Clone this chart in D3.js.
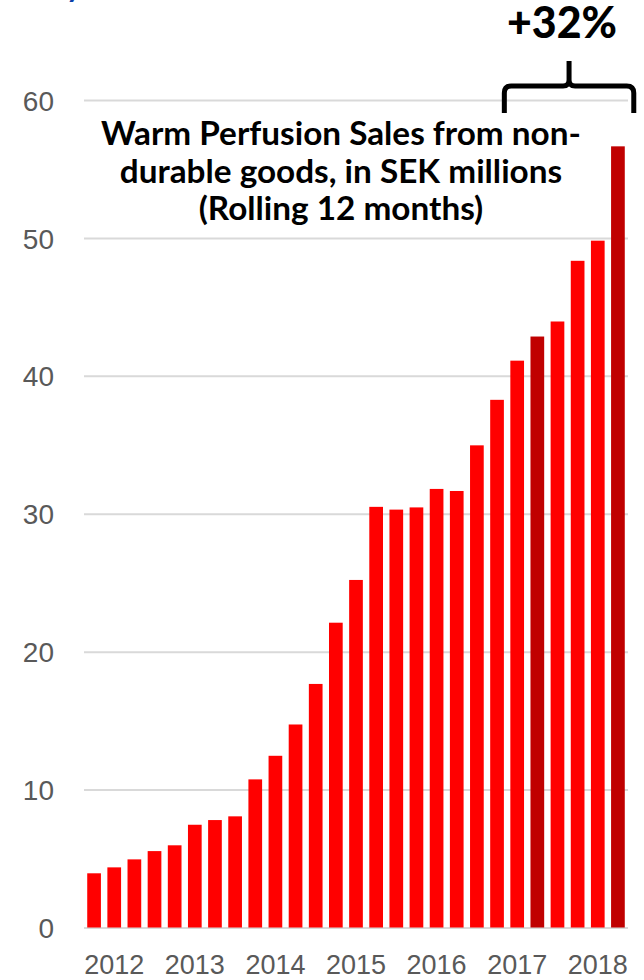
<!DOCTYPE html>
<html>
<head>
<meta charset="utf-8">
<script src="https://cdn.jsdelivr.net/npm/d3@7"></script>
<style>
  body { margin: 0; background: #fff; }
  svg { display: block; font-family: Lato, "Open Sans", sans-serif; }
</style>
</head>
<body>
<div id="chart"></div>
<script>
// rolling 12 months, one bar per quarter
const quarters = [
  "Q1 2012", "Q2 2012", "Q3 2012", "Q4 2012",
  "Q1 2013", "Q2 2013", "Q3 2013", "Q4 2013",
  "Q1 2014", "Q2 2014", "Q3 2014", "Q4 2014",
  "Q1 2015", "Q2 2015", "Q3 2015", "Q4 2015",
  "Q1 2016", "Q2 2016", "Q3 2016", "Q4 2016",
  "Q1 2017", "Q2 2017", "Q3 2017", "Q4 2017",
  "Q1 2018", "Q2 2018", "Q3 2018"
];
const sales = [
  3.93, 4.36, 4.94, 5.54,
  5.96, 7.45, 7.79, 8.06,
  10.74, 12.45, 14.72, 17.66,
  22.1, 25.2, 30.5, 30.3,
  30.46, 31.8, 31.65, 34.96,
  38.26, 41.1, 42.85, 43.94,
  48.34, 49.8, 56.64
];
const highlighted = ["Q3 2017", "Q3 2018"];
const yTicks = [0, 10, 20, 30, 40, 50, 60];
const yearTicks = ["Q2 2012", "Q2 2013", "Q2 2014", "Q2 2015", "Q2 2016", "Q2 2017", "Q2 2018"];
const titleLines = [
  "Warm Perfusion Sales from non-",
  "durable goods, in SEK millions",
  "(Rolling 12 months)"
];
const growthLabel = "+32%";

const width = 644;
const height = 980;

let data = quarters.map(function (q, i) { return { quarter: q, value: sales[i] }; });

let svg = d3.select("#chart").append("svg")
  .attr("width", width)
  .attr("height", height);

let x = d3.scaleBand()
  .domain(quarters)
  .range([84, 628])
  .paddingInner(0.32)
  .paddingOuter(0.16);

let y = d3.scaleLinear()
  .domain([0, 60])
  .range([927.5, 100]);

// gridlines + y labels
let yAxis = d3.axisLeft(y)
  .tickValues(yTicks)
  .tickSize(-(628 - 84))
  .tickPadding(30);

let gy = svg.append("g")
  .attr("transform", "translate(84,0)")
  .call(yAxis);

gy.select(".domain").remove();
gy.selectAll(".tick line")
  .attr("stroke", "#d9d9d9")
  .attr("stroke-width", 2);
gy.selectAll(".tick text")
  .attr("fill", "#595959")
  .attr("font-size", 28)
  .attr("dy", "0.36em");

// bars
svg.append("g").selectAll("rect")
  .data(data)
  .enter()
  .append("rect")
  .attr("x", function (d) { return x(d.quarter); })
  .attr("y", function (d) { return y(d.value); })
  .attr("width", x.bandwidth())
  .attr("height", function (d) { return y(0) - y(d.value); })
  .attr("fill", function (d) {
    return highlighted.includes(d.quarter) ? "#c00000" : "#ff0000";
  });

// year labels
let xAxis = d3.axisBottom(x)
  .tickValues(yearTicks)
  .tickSize(0)
  .tickFormat(function (d) { return d.slice(3); });

let gx = svg.append("g")
  .attr("transform", `translate(0, ${y(0)})`)
  .call(xAxis);

gx.select(".domain").remove();
gx.selectAll(".tick text")
  .attr("fill", "#595959")
  .attr("font-size", 27)
  .attr("y", 0)
  .attr("dy", 0)
  .attr("transform", "translate(0, 46)");

// fit a text element's font size to a target width
function fitWidth(sel, target) {
  let size = parseFloat(sel.attr("font-size"));
  let w = sel.node().getComputedTextLength();
  sel.attr("font-size", size * target / w);
  return size * target / w;
}

// title inside the plot
let title = svg.append("g")
  .attr("font-weight", "bold")
  .attr("fill", "#000")
  .attr("text-anchor", "middle");

let firstLine = title.append("text")
  .attr("x", 341)
  .attr("y", 145)
  .attr("font-size", 27)
  .text(titleLines[0]);
let titleSize = fitWidth(firstLine, 480);

titleLines.slice(1).forEach(function (line, i) {
  title.append("text")
    .attr("x", 341)
    .attr("y", 145 + (i + 1) * 37.5)
    .attr("font-size", titleSize)
    .text(line);
});

// brace over the last year
let braceLeft = x(quarters[21]) - 6;
let braceRight = x(quarters[quarters.length - 1]) + x.bandwidth() + 9;
let braceMid = (braceLeft + braceRight) / 2;
let braceY = 86;

svg.append("path")
  .attr("d", `M${braceLeft},113 V${braceY + 7} Q${braceLeft},${braceY} ${braceLeft + 7},${braceY} H${braceMid - 6} ` +
    `Q${braceMid},${braceY} ${braceMid},${braceY - 6} V61 ` +
    `M${braceMid},${braceY - 6} Q${braceMid},${braceY} ${braceMid + 6},${braceY} H${braceRight - 7} ` +
    `Q${braceRight},${braceY} ${braceRight},${braceY + 7} V113`)
  .attr("fill", "none")
  .attr("stroke", "#000")
  .attr("stroke-width", 5);

let growth = svg.append("text")
  .attr("x", 562)
  .attr("y", 38)
  .attr("text-anchor", "middle")
  .attr("font-weight", "900")
  .attr("font-size", 36)
  .text(growthLabel);
fitWidth(growth, 110);

// clipped fragment of the slide heading above
svg.append("text")
  .attr("x", 66)
  .attr("y", -3)
  .attr("fill", "#0b3fa8")
  .attr("font-weight", "bold")
  .attr("font-size", 30)
  .text("y");
</script>
</body>
</html>
